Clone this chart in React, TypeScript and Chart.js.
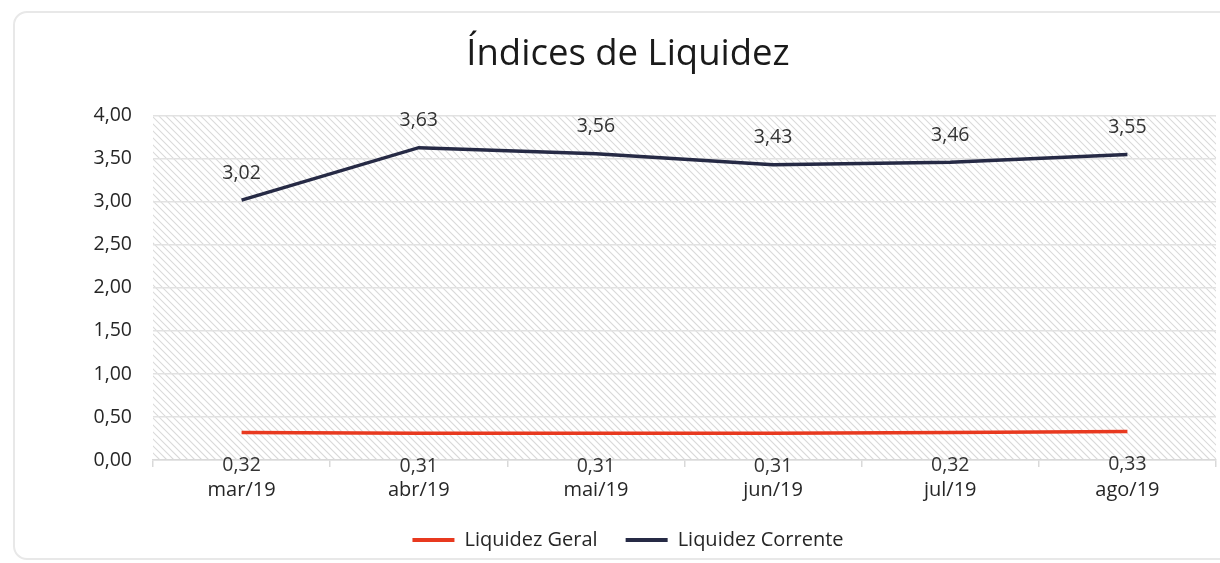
import React, { useEffect, useRef } from "react";
import { Chart, registerables } from "chart.js";

Chart.register(...registerables);

const TITLE = "Índices de Liquidez";
const CATEGORIES = ["mar/19", "abr/19", "mai/19", "jun/19", "jul/19", "ago/19"];
const LIQUIDEZ_GERAL = [0.32, 0.31, 0.31, 0.31, 0.32, 0.33];
const LIQUIDEZ_CORRENTE = [3.02, 3.63, 3.56, 3.43, 3.46, 3.55];
const SERIES_NAMES = ["Liquidez Geral", "Liquidez Corrente"];
const SERIES_COLORS = ["#E8391F", "#262A45"];
const Y_MIN = 0;
const Y_MAX = 4;
const Y_STEP = 0.5;

const FONT = "'Open Sans', 'Noto Sans', sans-serif";
const fmt = (v: number) => v.toFixed(2).replace(".", ",");

const hatchPlugin = {
  id: "hatch",
  beforeDraw(chart: any) {
    const { ctx, chartArea } = chart;
    if (!chartArea) return;
    const { left, top, right, bottom } = chartArea;
    ctx.save();
    ctx.beginPath();
    ctx.rect(left, top, right - left, bottom - top);
    ctx.clip();
    ctx.strokeStyle = "#dadada";
    ctx.lineWidth = 1.1;
    const h = bottom - top;
    const step = 7;
    ctx.beginPath();
    for (let x = left - h; x < right + step; x += step) {
      ctx.moveTo(x, top);
      ctx.lineTo(x + h, bottom);
    }
    ctx.stroke();
    ctx.restore();
  },
};

const labelPlugin = {
  id: "valueLabels",
  afterDatasetsDraw(chart: any) {
    const { ctx } = chart;
    ctx.save();
    ctx.font = `19.5px ${FONT}`;
    ctx.fillStyle = "#333333";
    ctx.textAlign = "center";
    ctx.textBaseline = "middle";
    chart.data.datasets.forEach((ds: any, i: number) => {
      const meta = chart.getDatasetMeta(i);
      const offset = i === 0 ? 33 : -27;
      meta.data.forEach((pt: any, j: number) => {
        ctx.fillText(fmt(ds.data[j]), pt.x, pt.y + offset);
      });
    });
    ctx.restore();
  },
};

export default function App() {
  const ref = useRef<HTMLCanvasElement>(null);

  useEffect(() => {
    if (!ref.current) return;
    const chart = new Chart(ref.current, {
      type: "line",
      data: {
        labels: CATEGORIES,
        datasets: [
          {
            label: SERIES_NAMES[0],
            data: LIQUIDEZ_GERAL,
            borderColor: SERIES_COLORS[0],
            backgroundColor: SERIES_COLORS[0],
            borderWidth: 3.5,
            pointRadius: 0,
            tension: 0,
          },
          {
            label: SERIES_NAMES[1],
            data: LIQUIDEZ_CORRENTE,
            borderColor: SERIES_COLORS[1],
            backgroundColor: SERIES_COLORS[1],
            borderWidth: 3.5,
            pointRadius: 0,
            tension: 0,
          },
        ],
      },
      options: {
        responsive: false,
        animation: false,
        layout: { padding: { left: 40, right: 4, top: 0, bottom: 3 } },
        plugins: {
          title: {
            display: true,
            text: TITLE,
            color: "#1a1a1a",
            font: { family: FONT, size: 36.5, weight: "normal" },
            padding: { top: 33, bottom: 39 },
          },
          legend: {
            position: "bottom",
            labels: {
              usePointStyle: true,
              pointStyleWidth: 42,
              boxHeight: 18,
              padding: 28,
              color: "#262626",
              font: { family: FONT, size: 20 },
              generateLabels: () =>
                SERIES_NAMES.map((n, i) => ({
                  text: n,
                  strokeStyle: SERIES_COLORS[i],
                  fillStyle: SERIES_COLORS[i],
                  lineWidth: 4,
                  pointStyle: "line",
                  datasetIndex: i,
                  hidden: false,
                  fontColor: "#262626",
                })),
            },
          },
          tooltip: { enabled: false },
        },
        scales: {
          x: {
            offset: true,
            afterFit: (s: any) => {
              s.height = 42;
            },
            grid: {
              offset: true,
              drawOnChartArea: false,
              drawTicks: true,
              tickLength: 7,
              color: "#d9d9d9",
              lineWidth: 1.5,
            },
            border: { color: "#d9d9d9", width: 1.5 },
            ticks: {
              color: "#262626",
              font: { family: FONT, size: 20 },
              padding: 11,
              maxRotation: 0,
            },
          },
          y: {
            min: Y_MIN,
            max: Y_MAX,
            afterFit: (s: any) => {
              s.width = 113;
            },
            grid: { color: "#e2e2e2", lineWidth: 1.5, drawTicks: false },
            border: { display: false },
            ticks: {
              stepSize: Y_STEP,
              padding: 21,
              color: "#262626",
              font: { family: FONT, size: 19.5 },
              callback: (v: any) => fmt(Number(v)),
            },
          },
        },
      },
      plugins: [hatchPlugin, labelPlugin],
    });
    return () => chart.destroy();
  }, []);

  return (
    <div
      style={{
        position: "fixed",
        left: 0,
        top: 0,
        width: 1220,
        height: 563,
        background: "#ffffff",
        overflow: "hidden",
      }}
    >
      <div
        style={{
          position: "absolute",
          left: 13,
          top: 11,
          width: 1240,
          height: 549,
          border: "2px solid #e8e8e8",
          borderRadius: 14,
          boxSizing: "border-box",
        }}
      />
      <canvas
        ref={ref}
        width={1220}
        height={563}
        style={{ position: "absolute", left: 0, top: 0 }}
      />
    </div>
  );
}
